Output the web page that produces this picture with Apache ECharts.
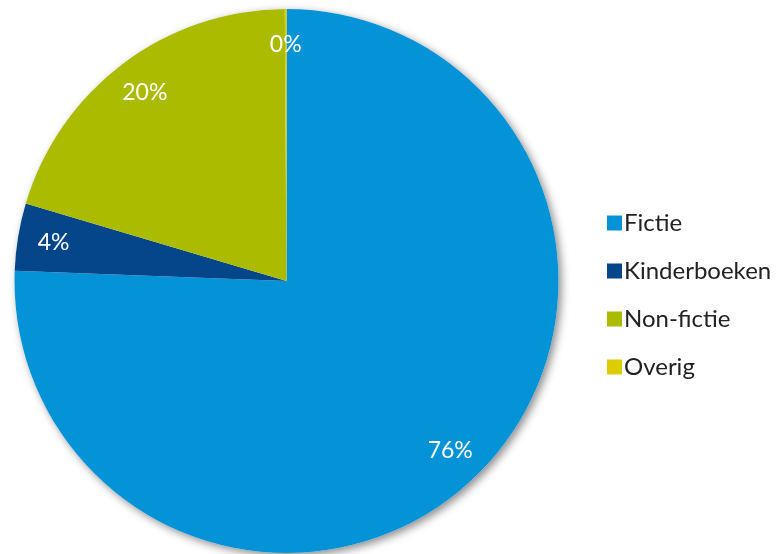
<!DOCTYPE html>
<html><head><meta charset="utf-8">
<script src="https://cdn.jsdelivr.net/npm/echarts@6/dist/echarts.min.js"></script>
<style>html,body{margin:0;padding:0;background:#fff}#c{width:777px;height:554px}</style>
</head><body><div id="c"></div>
<script>
const categories = ['Fictie', 'Kinderboeken', 'Non-fictie', 'Overig'];
const values = [75.6, 4.0, 20.3, 0.1];
const colors = ['#0593D7', '#05468B', '#AABB00', '#DDCC00'];

const data = categories.map((n, i) => ({ name: n, value: values[i], itemStyle: { color: colors[i] } }));
const total = values.reduce((a, b) => a + b, 0);
const center = [286.5, 281];
const R = 272;

const chart = echarts.init(document.getElementById('c'), null, { renderer: 'canvas' });
chart.setOption({
  animation: false,
  legend: {
    orient: 'vertical', left: 602, top: 206,
    itemWidth: 15, itemHeight: 15, itemGap: 24, icon: 'rect',
    textStyle: { fontFamily: 'Lato, "Open Sans", sans-serif', fontSize: 24, color: '#222', lineHeight: 22, padding: [0, 0, 0, -3] },
    data: categories
  },
  series: [
    {
      type: 'pie', center: center, radius: R, silent: true, z: 1,
      data: [{ name: '_bg', value: total }],
      itemStyle: { color: '#fff', shadowBlur: 8, shadowOffsetX: 3, shadowOffsetY: 3, shadowColor: 'rgba(0,0,0,0.45)' },
      label: { show: false }, labelLine: { show: false }, emphasis: { disabled: true }
    },
    {
      type: 'pie', center: center, radius: R, startAngle: 90, clockwise: true, z: 2,
      percentPrecision: 0, minAngle: 0, avoidLabelOverlap: false,
      data: data,
      itemStyle: { borderWidth: 0 },
      label: { show: false }, labelLine: { show: false }, emphasis: { disabled: true }
    },
    {
      type: 'pie', center: center, radius: [194, R], startAngle: 90, clockwise: true, z: 3,
      silent: true, percentPrecision: 0, avoidLabelOverlap: false,
      data: categories.map((n, i) => ({ name: n, value: values[i] })),
      itemStyle: { color: 'rgba(0,0,0,0)' },
      label: { show: true, position: 'inside', formatter: '{d}%', color: '#fff', fontSize: 23, fontFamily: 'Lato, "Open Sans", sans-serif' },
      labelLine: { show: false }, emphasis: { disabled: true }
    }
  ]
});
</script></body></html>
